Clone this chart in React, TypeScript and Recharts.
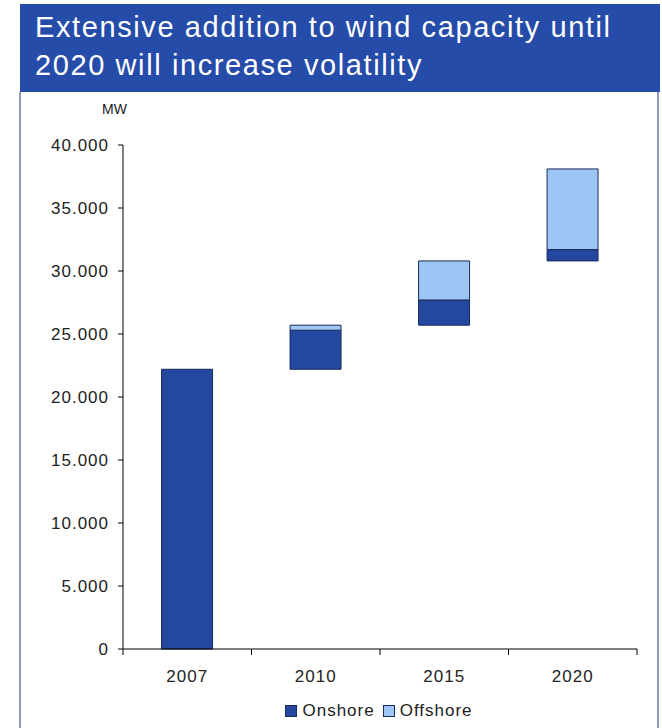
import { BarChart, Bar, XAxis, YAxis, Legend } from "recharts";

const years = ["2007", "2010", "2015", "2020"];
const baseMW = [0, 22200, 25700, 30800];
const onshoreMW = [22200, 3100, 2000, 900];
const offshoreMW = [0, 400, 3100, 6400];
const yTicks = [0, 5000, 10000, 15000, 20000, 25000, 30000, 35000, 40000];
const legendOrder = ["Onshore", "Offshore"];

const data = years.map((year, i) => ({
  year,
  base: baseMW[i],
  onshore: onshoreMW[i],
  offshore: offshoreMW[i],
}));

const FONT = "'Liberation Sans', Arial, sans-serif";
const HEADER_BLUE = "#264caa";
const ONSHORE = "#2447a0";
const OFFSHORE = "#9dc6f5";
const EDGE = "#1b2a58";
const TICK_SIZE = 6;
const TICK_MARGIN = 14;

const fmt = (v: number) => String(v).replace(/\B(?=(\d{3})+(?!\d))/g, ".");

function YearTick(props: any) {
  const { x, y, payload, index } = props;
  const axisY = y - TICK_SIZE - TICK_MARGIN;
  const half = payload?.offset ?? 0;
  return (
    <g>
      {index === 0 && (
        <line x1={x - half} x2={x - half} y1={axisY} y2={axisY + 6} stroke="#000" />
      )}
      <line x1={x + half} x2={x + half} y1={axisY} y2={axisY + 6} stroke="#000" />
      <text x={x} y={axisY + 33} textAnchor="middle" fontSize={17} letterSpacing={1} fill="#222" fontFamily={FONT}>
        {payload.value}
      </text>
    </g>
  );
}

function LegendBox({ payload }: any) {
  const items = legendOrder
    .map((name) => (payload || []).find((p: any) => p.value === name))
    .filter(Boolean);
  return (
    <div style={{ height: 22, display: "flex", justifyContent: "center", alignItems: "center", fontFamily: FONT, fontSize: 17, letterSpacing: 1, color: "#222" }}>
      {items.map((p: any) => (
        <span key={p.value} style={{ display: "flex", alignItems: "center", marginRight: 8 }}>
          <span style={{ width: 10, height: 10, background: p.color, border: `1px solid ${EDGE}`, marginRight: 5 }} />
          {p.value}
        </span>
      ))}
    </div>
  );
}

export default function App() {
  return (
    <div style={{ position: "absolute", left: 0, top: 0, width: 662, height: 728, background: "#fff", fontFamily: FONT }}>
      <div style={{ position: "absolute", left: 20, top: 4, width: 640, height: 88, background: HEADER_BLUE }}>
        <div style={{ paddingLeft: 15, paddingTop: 4, color: "#fff", fontSize: 29, lineHeight: "38px", letterSpacing: 1.6 }}>
          Extensive addition to wind capacity until
          <br />
          2020 will increase volatility
        </div>
      </div>
      <div style={{ position: "absolute", left: 19, top: 92, width: 2, height: 636, background: "#8f99c2" }} />
      <div style={{ position: "absolute", left: 657, top: 92, width: 2, height: 636, background: "#8f99c2" }} />
      <div style={{ position: "absolute", left: 102, top: 101, fontSize: 14, lineHeight: "16px", color: "#222" }}>MW</div>
      <div style={{ position: "absolute", left: 0, top: 0 }}>
        <BarChart
          width={662}
          height={728}
          data={data}
          margin={{ top: 145, right: 25, bottom: 6, left: 0 }}
          barCategoryGap="30%"
        >
          <XAxis
            dataKey="year"
            height={51}
            axisLine={{ stroke: "#000" }}
            tickLine={false}
            tickSize={TICK_SIZE}
            tickMargin={TICK_MARGIN}
            tick={<YearTick />}
            interval={0}
          />
          <YAxis
            width={123}
            domain={[0, 40000]}
            ticks={yTicks}
            interval={0}
            tickFormatter={fmt}
            axisLine={{ stroke: "#000" }}
            tickLine={{ stroke: "#000" }}
            tickSize={5}
            tickMargin={9}
            tick={{ fontSize: 17, letterSpacing: 1, fill: "#222", fontFamily: FONT }}
          />
          <Legend
            verticalAlign="bottom"
            wrapperStyle={{ left: 123, width: 520 }}
            content={<LegendBox />}
          />
          <Bar dataKey="base" stackId="w" fill="transparent" legendType="none" isAnimationActive={false} />
          <Bar dataKey="onshore" name="Onshore" stackId="w" fill={ONSHORE} stroke={EDGE} strokeWidth={1} isAnimationActive={false} />
          <Bar dataKey="offshore" name="Offshore" stackId="w" fill={OFFSHORE} stroke={EDGE} strokeWidth={1} isAnimationActive={false} />
        </BarChart>
      </div>
    </div>
  );
}
